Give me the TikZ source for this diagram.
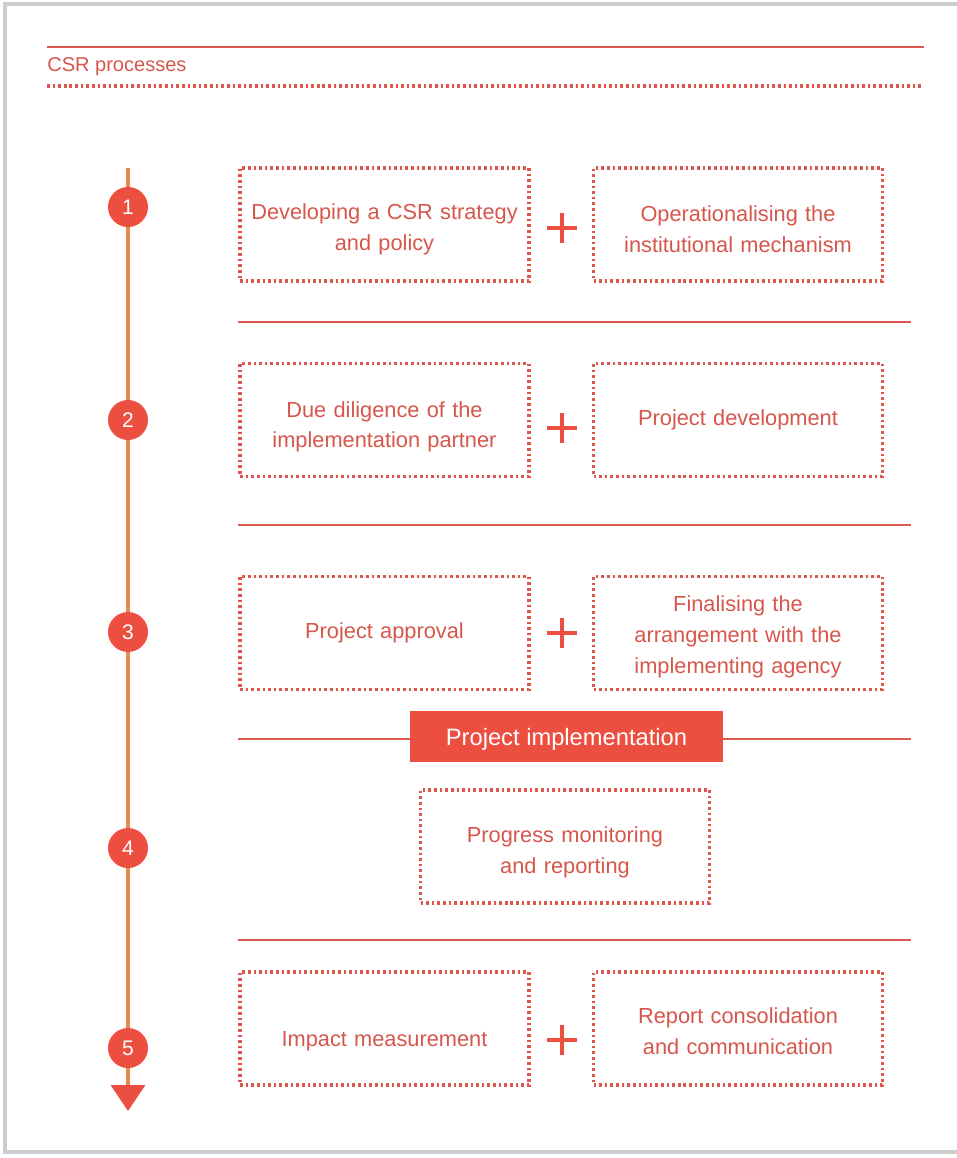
\documentclass[tikz,border=0pt]{standalone}
\usepackage{fontspec}
\setmainfont{Liberation Sans}
\usepackage{tikz}
\usetikzlibrary{arrows.meta}
\definecolor{csrred}{RGB}{236,78,64}
\definecolor{csrline}{RGB}{220,88,78}
\definecolor{csrtext}{RGB}{214,86,76}
\definecolor{csrorange}{RGB}{234,136,72}
\definecolor{framegray}{RGB}{205,205,205}
\tikzset{
  stepbox/.style={draw=csrline, line width=1.8pt, dash pattern=on 1.5pt off 1.7pt,
    minimum width=5.78cm, minimum height=2.26cm, text width=5.4cm, align=center,
    text=csrtext, font=\fontsize{12.4}{17.5}\selectfont},
  sink/.style={execute at begin node={\rule{0pt}{#1}}},
  stepnum/.style={circle, fill=csrred, minimum size=0.8cm, inner sep=0pt,
    text=white, font=\fontsize{12}{14}\selectfont},
  rule/.style={draw=csrline, line width=1.5pt},
  plusline/.style={draw=csrred, line width=2.6pt},
  phasebox/.style={fill=csrred, minimum width=6.26cm, minimum height=1.02cm,
    text=white, font=\fontsize{13.5}{16}\selectfont}
}
\newcommand{\plussign}[2]{\draw[plusline] (#1-15,#2) -- (#1+15,#2) (#1,#2-15) -- (#1,#2+15);}
\begin{document}
\begin{tikzpicture}[x=0.02cm, y=-0.02cm]
    \useasboundingbox (0,0) rectangle (956,1158);
    % card frame
    \draw[framegray, line width=2.5pt] (5,4) rectangle (990,1152);
    % heading
    \draw[rule] (47,47) -- (924,47);
    \draw (47,67) node(title)[anchor=west, inner sep=0pt, text=csrtext, font=\fontsize{11.4}{13}\selectfont]{CSR processes};
    \draw[csrline, line width=1.8pt, dash pattern=on 1.5pt off 1.7pt] (47,86) -- (924,86);
    % time line
    \coordinate (top) at (128,168);
    \coordinate (bot) at (128,1111);
    \draw[csrorange, line width=2pt, -{Triangle[width=0.68cm, length=0.52cm, color=csrred]}] (top) -- (bot);
    \draw (128,207) node(n1)[stepnum]{1};
    \draw (128,420) node(n2)[stepnum]{2};
    \draw (128,632) node(n3)[stepnum]{3};
    \draw (128,848) node(n4)[stepnum]{4};
    \draw (128,1048) node(n5)[stepnum]{5};
    % step 1
    \draw (384.5,224.5) node(strategy)[stepbox, sink=14.6pt]{Developing a CSR strategy\\and policy};
    \draw (738,224.5) node(mechanism)[stepbox, sink=14.6pt]{Operationalising the\\institutional mechanism};
    \plussign{562}{228}
    \draw[rule] (238,322) -- (911,322);
    % step 2
    \draw (384.5,420) node(diligence)[stepbox, sink=16.9pt]{Due diligence of the\\implementation partner};
    \draw (738,420) node(development)[stepbox]{Project development};
    \plussign{562}{428}
    \draw[rule] (238,525) -- (911,525);
    % step 3
    \draw (384.5,633) node(approval)[stepbox]{Project approval};
    \draw (738,633) node(arrangement)[stepbox, sink=13.4pt]{Finalising the\\arrangement with the\\implementing agency};
    \plussign{562}{633}
    \draw[rule] (238,739) -- (911,739);
    \draw (566.5,736.5) node(implementation)[phasebox, sink=13pt]{Project implementation};
    % step 4
    \draw (565,846.5) node(monitoring)[stepbox, sink=15.7pt]{Progress monitoring\\and reporting};
    \draw[rule] (238,940) -- (911,940);
    % step 5
    \draw (384.5,1028.5) node(impact)[stepbox, sink=22.6pt]{Impact measurement};
    \draw (738,1028.5) node(consolidation)[stepbox, sink=12.3pt]{Report consolidation\\and communication};
    \plussign{562}{1040}
\end{tikzpicture}
\end{document}
